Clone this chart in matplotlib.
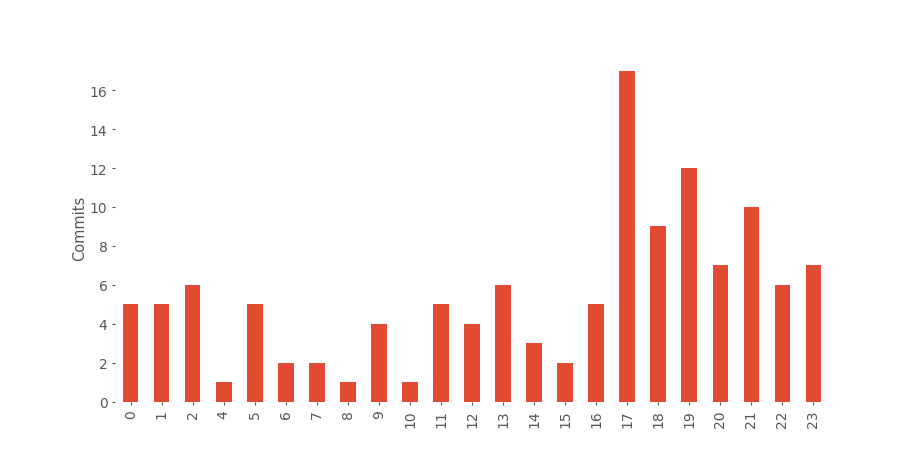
import numpy as np
import matplotlib
matplotlib.use('Agg')
import matplotlib.pyplot as plt
import pandas as pd

plt.style.use('ggplot')

# commits por hora do dia (hora 3 sem commits)
hours = [0, 1, 2, 4, 5, 6, 7, 8, 9, 10, 11, 12, 13, 14, 15, 16, 17, 18, 19, 20, 21, 22, 23]
commits = [5, 5, 6, 1, 5, 2, 2, 1, 4, 1, 5, 4, 6, 3, 2, 5, 17, 9, 12, 7, 10, 6, 7]

s = pd.Series(commits, index=hours)

fig = plt.figure(figsize=(9.21, 4.6), dpi=100)
ax = fig.add_axes([0.125, 0.125, 0.775, 0.755])
s.plot(kind='bar', ax=ax, color='#E24A33', width=0.5)

ax.set_facecolor('white')
ax.grid(False)
for sp in ax.spines.values():
    sp.set_visible(False)
ax.set_ylim(0, 17.85)
ax.set_yticks(range(0, 17, 2))
ax.set_ylabel('Commits', fontsize=10.5, color='#555555', labelpad=2)
ax.tick_params(colors='#555555', labelsize=10, length=2.5, pad=3)

fig.savefig('out.png', dpi=100, facecolor='white')
